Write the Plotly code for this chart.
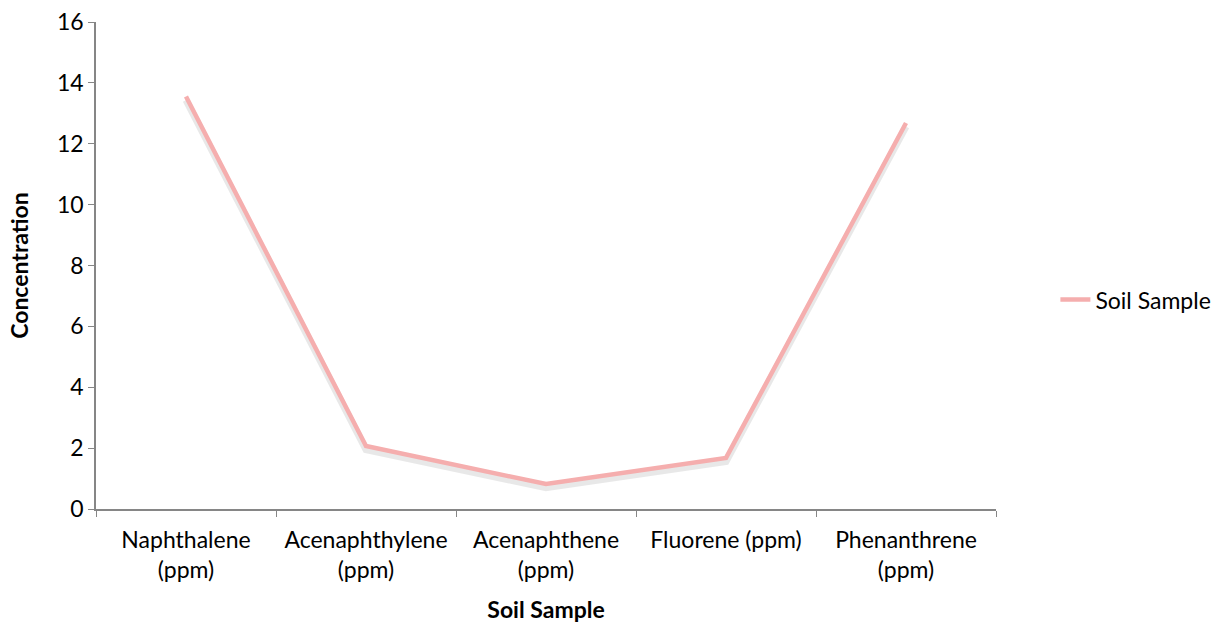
import plotly.graph_objects as go

categories = ["Naphthalene<br>(ppm)", "Acenaphthylene<br>(ppm)", "Acenaphthene<br>(ppm)",
              "Fluorene (ppm)", "Phenanthrene<br>(ppm)"]
values = [13.55, 2.07, 0.82, 1.68, 12.68]
y_ticks = [0, 2, 4, 6, 8, 10, 12, 14, 16]

FONT = "Lato, 'Open Sans', sans-serif"
AXIS_COLOR = "#868686"
FS = 23

fig = go.Figure()
# invisible anchor trace so the primary (ticked) y axis is drawn
fig.add_trace(go.Scatter(x=categories, y=values, mode="lines", opacity=0,
                         line=dict(width=0), showlegend=False, hoverinfo="skip"))
# soft shadow under the line (same data, axis shifted slightly so it falls below)
fig.add_trace(go.Scatter(x=categories, y=values, mode="lines", yaxis="y2",
                         line=dict(color="rgba(0,0,0,0.09)", width=7),
                         showlegend=False, hoverinfo="skip"))
fig.add_trace(go.Scatter(x=categories, y=values, mode="lines", name="Soil Sample", yaxis="y3",
                         line=dict(color="#F5AEAE", width=4.5)))

fig.update_layout(
    width=1219, height=627,
    margin=dict(l=96, r=223, t=22, b=118, autoexpand=False),
    paper_bgcolor="white", plot_bgcolor="white",
    font=dict(family=FONT, size=FS, color="#000000"),
    showlegend=True,
    legend=dict(x=1.066, y=0.43, xanchor="left", yanchor="middle",
                font=dict(family=FONT, size=FS), bgcolor="rgba(0,0,0,0)"),
    xaxis=dict(
        type="category", range=[-0.5, 4.5],
        showline=True, linecolor=AXIS_COLOR, linewidth=1.5,
        ticks="outside", tickson="boundaries", ticklen=6, tickcolor=AXIS_COLOR,
        ticklabelstandoff=10,
        showgrid=False, zeroline=False,
        tickfont=dict(family=FONT, size=FS),
        title=dict(text="<b>Soil Sample</b>", font=dict(family=FONT, size=FS), standoff=20),
    ),
    yaxis=dict(
        range=[0, 16], tickvals=y_ticks,
        showline=True, linecolor=AXIS_COLOR, linewidth=1.5,
        ticks="outside", ticklen=6, tickcolor=AXIS_COLOR,
        showgrid=False, zeroline=False,
        tickfont=dict(family=FONT, size=FS),
        title=dict(text="<b>Concentration</b>", font=dict(family=FONT, size=FS), standoff=22),
    ),
    yaxis2=dict(range=[0.12, 16.12], overlaying="y", visible=False),
    yaxis3=dict(range=[0, 16], overlaying="y", visible=False),
)

fig.write_html("out.html")
